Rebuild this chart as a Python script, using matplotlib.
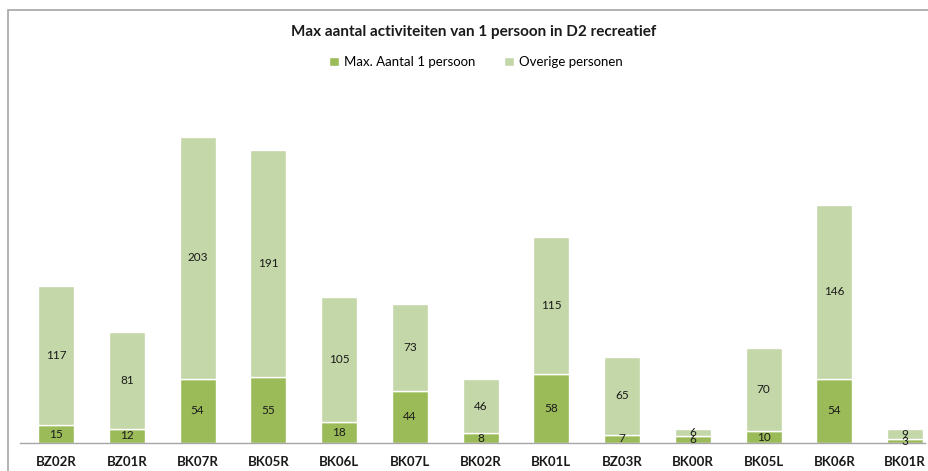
import matplotlib
matplotlib.use("Agg")
import matplotlib.pyplot as plt
from matplotlib.patches import Rectangle

categories = ["BZ02R", "BZ01R", "BK07R", "BK05R", "BK06L", "BK07L", "BK02R",
              "BK01L", "BZ03R", "BK00R", "BK05L", "BK06R", "BK01R"]
max_one = [15, 12, 54, 55, 18, 44, 8, 58, 7, 6, 10, 54, 3]
overige = [117, 81, 203, 191, 105, 73, 46, 115, 65, 6, 70, 146, 9]

dark = "#9BBB59"
light = "#C4D7A8"

plt.rcParams['font.family'] = ['Lato', 'DejaVu Sans']

W, H = 929, 471
fig = plt.figure(figsize=(W / 100, H / 100), dpi=100)

# outer chart border (cropped on right/bottom)
fig.patches.append(Rectangle((8 / W, -0.1), 1.2, (H - 10) / H + 0.1, transform=fig.transFigure,
                             fill=False, edgecolor="#A6A6A6", linewidth=1.2))

ax = fig.add_axes([20 / W, (H - 443) / H, (925 - 20) / W, (443 - 100) / H])
x = list(range(len(categories)))
b1 = ax.bar(x, max_one, width=0.51, color=dark, edgecolor="white", linewidth=1.0,
            label="Max. Aantal 1 persoon")
b2 = ax.bar(x, overige, width=0.51, bottom=max_one, color=light, edgecolor="white",
            linewidth=1.0, label="Overige personen")

for xi, a, b in zip(x, max_one, overige):
    ax.text(xi, a / 2, str(a), ha="center", va="center", fontsize=8.5, color="#1a1a1a")
    ax.text(xi, a + b / 2, str(b), ha="center", va="center", fontsize=8.5, color="#1a1a1a")

ax.set_xlim(-0.51, 12.28)
ax.set_ylim(0, 288)
ax.set_yticks([])
ax.set_xticks(x)
ax.set_xticklabels(categories, fontsize=9.5, fontweight="bold", color="#1a1a1a")
ax.tick_params(axis="x", length=0, pad=9)
for s in ["top", "right", "left"]:
    ax.spines[s].set_visible(False)
ax.spines["bottom"].set_color("#A6A6A6")
ax.spines["bottom"].set_linewidth(1.0)

fig.text(474 / W, 1 - 32 / H, "Max aantal activiteiten van 1 persoon in D2 recreatief",
         ha="center", va="center", fontsize=11, fontweight="bold", color="#1a1a1a")
fig.legend(handles=[b1, b2], loc="center", bbox_to_anchor=(476 / W, 1 - 62 / H), ncol=2,
           frameon=False, fontsize=9.5, handlelength=0.7, handleheight=0.7,
           handletextpad=0.4, columnspacing=2.2)

fig.savefig("out.png", dpi=100)
